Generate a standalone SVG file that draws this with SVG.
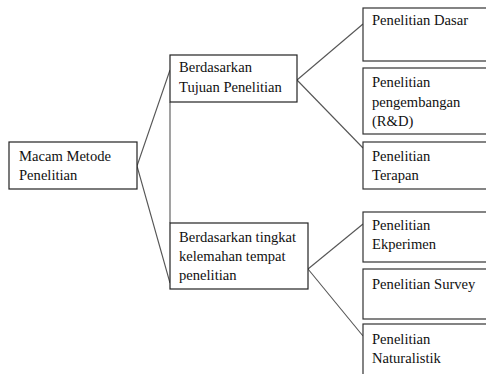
<svg xmlns="http://www.w3.org/2000/svg" width="486" height="374" viewBox="0 0 486 374">
<style>
.box{fill:#fff;stroke:#222;stroke-width:1.2}
.rbox{fill:#fff;stroke:#333;stroke-width:1.2}
.t{font-family:"Liberation Serif","Times New Roman",serif;font-size:14.6px;fill:#111}
.c{fill:none;stroke:#555;stroke-width:1.1}
</style>
<rect width="486" height="374" fill="#fff"/>
<g id="connectors">
<line class="c" x1="137" y1="166" x2="170" y2="70"/>
<line class="c" x1="137" y1="166" x2="170" y2="283"/>
<line class="c" x1="170" y1="102" x2="170" y2="223"/>
<line class="c" x1="297" y1="80" x2="363" y2="24"/>
<line class="c" x1="297" y1="80" x2="363" y2="148"/>
<line class="c" x1="308" y1="269" x2="363" y2="224"/>
<line class="c" x1="308" y1="269" x2="363" y2="336"/>
</g>
<g id="root">
<rect class="box" x="9" y="142" width="128" height="47"/>
<text class="t" x="19" y="161">Macam Metode</text>
<text class="t" x="19" y="180">Penelitian</text>
</g>
<g id="tujuan">
<rect class="box" x="170" y="55" width="127" height="47"/>
<text class="t" x="179" y="72">Berdasarkan</text>
<text class="t" x="179" y="92">Tujuan Penelitian</text>
</g>
<g id="tingkat">
<rect class="box" x="170" y="223" width="138" height="66"/>
<text class="t" x="179" y="242">Berdasarkan tingkat</text>
<text class="t" x="179" y="261">kelemahan tempat</text>
<text class="t" x="179" y="280">penelitian</text>
</g>
<g id="dasar">
<rect class="rbox" x="363" y="8" width="130" height="53"/>
<text class="t" x="372" y="25">Penelitian Dasar</text>
</g>
<g id="pengembangan">
<rect class="rbox" x="363" y="68" width="130" height="66"/>
<text class="t" x="372" y="87">Penelitian</text>
<text class="t" x="372" y="107">pengembangan</text>
<text class="t" x="372" y="126">(R&amp;D)</text>
</g>
<g id="terapan">
<rect class="rbox" x="363" y="142" width="130" height="47"/>
<text class="t" x="372" y="161">Penelitian</text>
<text class="t" x="372" y="180">Terapan</text>
</g>
<g id="ekperimen">
<rect class="rbox" x="363" y="212" width="130" height="50"/>
<text class="t" x="372" y="230">Penelitian</text>
<text class="t" x="372" y="249">Ekperimen</text>
</g>
<g id="survey">
<rect class="rbox" x="363" y="269" width="130" height="50"/>
<text class="t" x="372" y="289">Penelitian Survey</text>
</g>
<g id="naturalistik">
<rect class="rbox" x="363" y="324" width="130" height="60"/>
<text class="t" x="372" y="344">Penelitian</text>
<text class="t" x="372" y="363">Naturalistik</text>
</g>
</svg>
